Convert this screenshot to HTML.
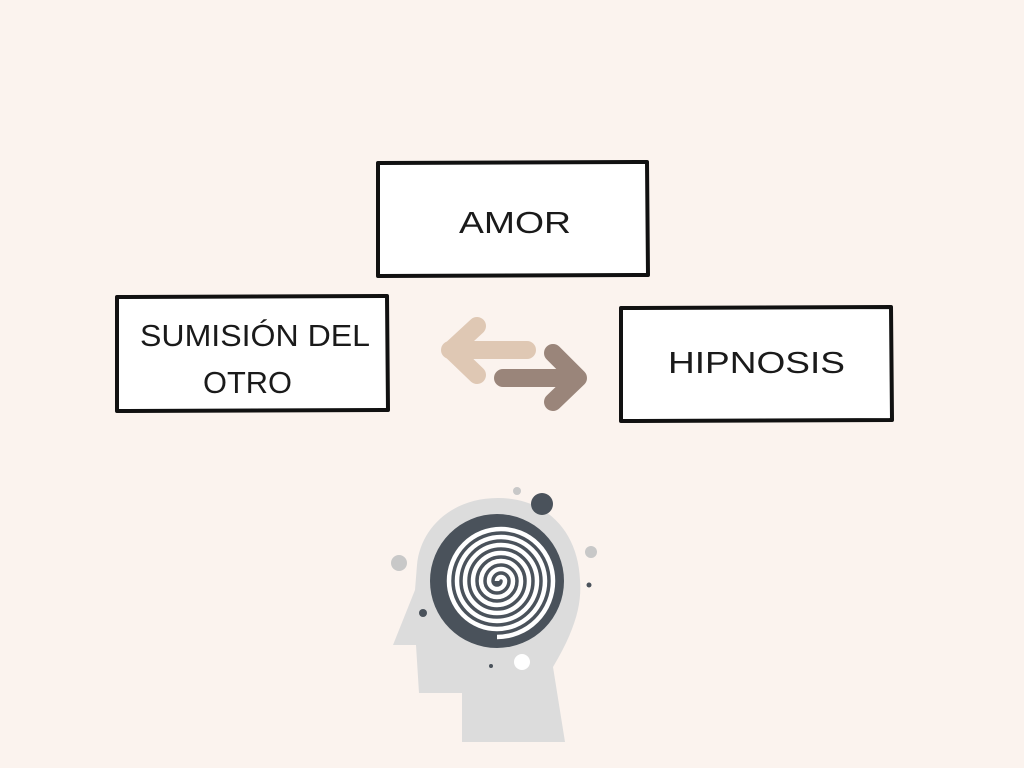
<!DOCTYPE html>
<html><head><meta charset="utf-8"><style>
html,body{margin:0;padding:0;background:#fbf3ee;}
svg{display:block;}
text{font-family:"Liberation Sans",sans-serif;fill:#1a1a1a;font-size:31px;}
</style></head><body>
<svg width="1024" height="768" viewBox="0 0 1024 768">
<rect width="1024" height="768" fill="#fbf3ee"/>
<g fill="#fff" stroke="#111" stroke-width="4" stroke-linejoin="round">
<path d="M378 163 L647 162 L648 275 L378 276 Z"/>
<path d="M117 297 L387 296 L388 410 L117 411 Z"/>
<path d="M621 308 L891 307 L892 420 L621 421 Z"/>
</g>
<text x="459" y="233" textLength="112" lengthAdjust="spacingAndGlyphs">AMOR</text>
<text x="140" y="346" textLength="230" lengthAdjust="spacingAndGlyphs">SUMISIÓN DEL</text>
<text x="203" y="393" textLength="89" lengthAdjust="spacingAndGlyphs">OTRO</text>
<text x="668" y="373" textLength="177" lengthAdjust="spacingAndGlyphs">HIPNOSIS</text>
<g fill="none" stroke-linecap="round" stroke-linejoin="round" stroke-width="18">
<path d="M527 350 L450 350 M477 326 L451 350 L477 375" stroke="#dfc8b4"/>
<path d="M503 378 L578 378 M553 353 L578 378 L553 402" stroke="#9a857a"/>
</g>
<path d="M415 590 L393 645 L416 645 L419 693 L462 693 L462 742 L565 742 L553 667 C575 630 582 605 580 580 C578 530 545 498 498 498 C450 498 420 530 417 565 Z" fill="#dcdcdc"/>
<circle cx="497" cy="581" r="67" fill="#4a525b"/>
<path d="M497 581 A4 4 0 0 1 505 581 A8 8 0 0 1 489 581 A12 12 0 0 1 513 581 A16 16 0 0 1 481 581 A20 20 0 0 1 521 581 A24 24 0 0 1 473 581 A28 28 0 0 1 529 581 A32 32 0 0 1 465 581 A36 36 0 0 1 537 581 A40 40 0 0 1 457 581 A44 44 0 0 1 545 581 A48 48 0 0 1 449 581 A52 52 0 0 1 553 581 A56 56 0 0 1 497 637" fill="none" stroke="#fff" stroke-width="4.5"/>
<circle cx="542" cy="504" r="11" fill="#4a525b"/>
<circle cx="517" cy="491" r="4" fill="#c8c8c8"/>
<circle cx="399" cy="563" r="8" fill="#c8c8c8"/>
<circle cx="591" cy="552" r="6" fill="#c8c8c8"/>
<circle cx="589" cy="585" r="2.5" fill="#4a525b"/>
<circle cx="423" cy="613" r="4" fill="#4a525b"/>
<circle cx="522" cy="662" r="8" fill="#fff"/>
<circle cx="491" cy="666" r="2" fill="#4a525b"/>
</svg>
</body></html>
